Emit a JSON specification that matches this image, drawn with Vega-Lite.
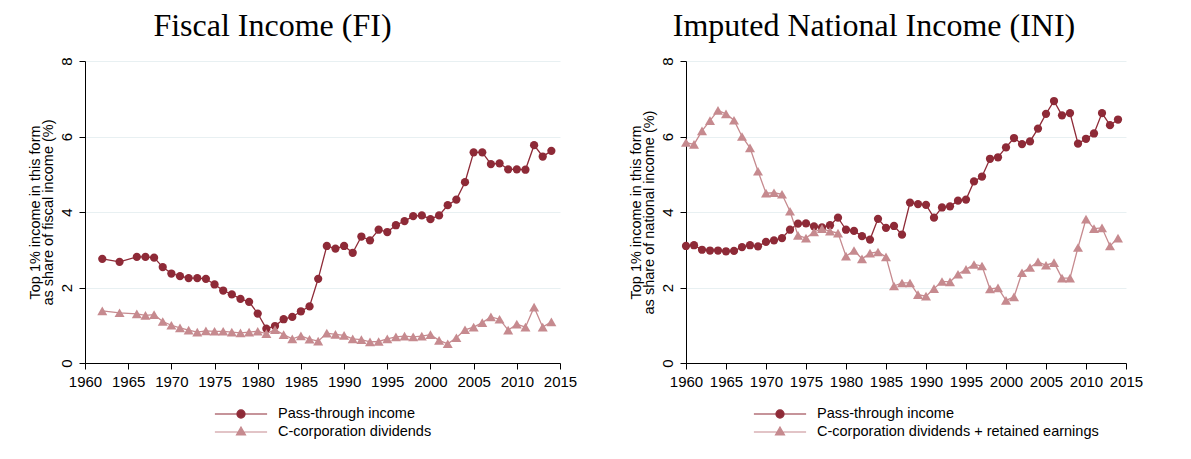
{
  "$schema": "https://vega.github.io/schema/vega-lite/v6.json",
  "background": "white",
  "padding": {"left": 27, "top": 9, "right": 5, "bottom": 5},
  "datasets": {
    "fi": [
      {"year": 1962, "value": 2.76, "series": "Pass-through income"},
      {"year": 1964, "value": 2.68, "series": "Pass-through income"},
      {"year": 1966, "value": 2.81, "series": "Pass-through income"},
      {"year": 1967, "value": 2.81, "series": "Pass-through income"},
      {"year": 1968, "value": 2.79, "series": "Pass-through income"},
      {"year": 1969, "value": 2.54, "series": "Pass-through income"},
      {"year": 1970, "value": 2.37, "series": "Pass-through income"},
      {"year": 1971, "value": 2.30, "series": "Pass-through income"},
      {"year": 1972, "value": 2.25, "series": "Pass-through income"},
      {"year": 1973, "value": 2.25, "series": "Pass-through income"},
      {"year": 1974, "value": 2.23, "series": "Pass-through income"},
      {"year": 1975, "value": 2.08, "series": "Pass-through income"},
      {"year": 1976, "value": 1.92, "series": "Pass-through income"},
      {"year": 1977, "value": 1.82, "series": "Pass-through income"},
      {"year": 1978, "value": 1.70, "series": "Pass-through income"},
      {"year": 1979, "value": 1.62, "series": "Pass-through income"},
      {"year": 1980, "value": 1.31, "series": "Pass-through income"},
      {"year": 1981, "value": 0.91, "series": "Pass-through income"},
      {"year": 1982, "value": 0.98, "series": "Pass-through income"},
      {"year": 1983, "value": 1.16, "series": "Pass-through income"},
      {"year": 1984, "value": 1.22, "series": "Pass-through income"},
      {"year": 1985, "value": 1.37, "series": "Pass-through income"},
      {"year": 1986, "value": 1.50, "series": "Pass-through income"},
      {"year": 1987, "value": 2.23, "series": "Pass-through income"},
      {"year": 1988, "value": 3.10, "series": "Pass-through income"},
      {"year": 1989, "value": 3.03, "series": "Pass-through income"},
      {"year": 1990, "value": 3.10, "series": "Pass-through income"},
      {"year": 1991, "value": 2.92, "series": "Pass-through income"},
      {"year": 1992, "value": 3.35, "series": "Pass-through income"},
      {"year": 1993, "value": 3.25, "series": "Pass-through income"},
      {"year": 1994, "value": 3.53, "series": "Pass-through income"},
      {"year": 1995, "value": 3.47, "series": "Pass-through income"},
      {"year": 1996, "value": 3.65, "series": "Pass-through income"},
      {"year": 1997, "value": 3.76, "series": "Pass-through income"},
      {"year": 1998, "value": 3.89, "series": "Pass-through income"},
      {"year": 1999, "value": 3.91, "series": "Pass-through income"},
      {"year": 2000, "value": 3.81, "series": "Pass-through income"},
      {"year": 2001, "value": 3.91, "series": "Pass-through income"},
      {"year": 2002, "value": 4.18, "series": "Pass-through income"},
      {"year": 2003, "value": 4.33, "series": "Pass-through income"},
      {"year": 2004, "value": 4.79, "series": "Pass-through income"},
      {"year": 2005, "value": 5.58, "series": "Pass-through income"},
      {"year": 2006, "value": 5.58, "series": "Pass-through income"},
      {"year": 2007, "value": 5.27, "series": "Pass-through income"},
      {"year": 2008, "value": 5.29, "series": "Pass-through income"},
      {"year": 2009, "value": 5.13, "series": "Pass-through income"},
      {"year": 2010, "value": 5.13, "series": "Pass-through income"},
      {"year": 2011, "value": 5.12, "series": "Pass-through income"},
      {"year": 2012, "value": 5.77, "series": "Pass-through income"},
      {"year": 2013, "value": 5.47, "series": "Pass-through income"},
      {"year": 2014, "value": 5.62, "series": "Pass-through income"},
      {"year": 1962, "value": 1.38, "series": "C-corporation dividends"},
      {"year": 1964, "value": 1.33, "series": "C-corporation dividends"},
      {"year": 1966, "value": 1.30, "series": "C-corporation dividends"},
      {"year": 1967, "value": 1.26, "series": "C-corporation dividends"},
      {"year": 1968, "value": 1.28, "series": "C-corporation dividends"},
      {"year": 1969, "value": 1.10, "series": "C-corporation dividends"},
      {"year": 1970, "value": 1.00, "series": "C-corporation dividends"},
      {"year": 1971, "value": 0.93, "series": "C-corporation dividends"},
      {"year": 1972, "value": 0.87, "series": "C-corporation dividends"},
      {"year": 1973, "value": 0.82, "series": "C-corporation dividends"},
      {"year": 1974, "value": 0.85, "series": "C-corporation dividends"},
      {"year": 1975, "value": 0.84, "series": "C-corporation dividends"},
      {"year": 1976, "value": 0.84, "series": "C-corporation dividends"},
      {"year": 1977, "value": 0.82, "series": "C-corporation dividends"},
      {"year": 1978, "value": 0.80, "series": "C-corporation dividends"},
      {"year": 1979, "value": 0.82, "series": "C-corporation dividends"},
      {"year": 1980, "value": 0.84, "series": "C-corporation dividends"},
      {"year": 1981, "value": 0.78, "series": "C-corporation dividends"},
      {"year": 1982, "value": 0.88, "series": "C-corporation dividends"},
      {"year": 1983, "value": 0.75, "series": "C-corporation dividends"},
      {"year": 1984, "value": 0.64, "series": "C-corporation dividends"},
      {"year": 1985, "value": 0.72, "series": "C-corporation dividends"},
      {"year": 1986, "value": 0.63, "series": "C-corporation dividends"},
      {"year": 1987, "value": 0.58, "series": "C-corporation dividends"},
      {"year": 1988, "value": 0.79, "series": "C-corporation dividends"},
      {"year": 1989, "value": 0.76, "series": "C-corporation dividends"},
      {"year": 1990, "value": 0.73, "series": "C-corporation dividends"},
      {"year": 1991, "value": 0.64, "series": "C-corporation dividends"},
      {"year": 1992, "value": 0.62, "series": "C-corporation dividends"},
      {"year": 1993, "value": 0.56, "series": "C-corporation dividends"},
      {"year": 1994, "value": 0.57, "series": "C-corporation dividends"},
      {"year": 1995, "value": 0.64, "series": "C-corporation dividends"},
      {"year": 1996, "value": 0.69, "series": "C-corporation dividends"},
      {"year": 1997, "value": 0.71, "series": "C-corporation dividends"},
      {"year": 1998, "value": 0.69, "series": "C-corporation dividends"},
      {"year": 1999, "value": 0.71, "series": "C-corporation dividends"},
      {"year": 2000, "value": 0.75, "series": "C-corporation dividends"},
      {"year": 2001, "value": 0.60, "series": "C-corporation dividends"},
      {"year": 2002, "value": 0.51, "series": "C-corporation dividends"},
      {"year": 2003, "value": 0.67, "series": "C-corporation dividends"},
      {"year": 2004, "value": 0.88, "series": "C-corporation dividends"},
      {"year": 2005, "value": 0.95, "series": "C-corporation dividends"},
      {"year": 2006, "value": 1.07, "series": "C-corporation dividends"},
      {"year": 2007, "value": 1.22, "series": "C-corporation dividends"},
      {"year": 2008, "value": 1.16, "series": "C-corporation dividends"},
      {"year": 2009, "value": 0.87, "series": "C-corporation dividends"},
      {"year": 2010, "value": 1.03, "series": "C-corporation dividends"},
      {"year": 2011, "value": 0.95, "series": "C-corporation dividends"},
      {"year": 2012, "value": 1.48, "series": "C-corporation dividends"},
      {"year": 2013, "value": 0.95, "series": "C-corporation dividends"},
      {"year": 2014, "value": 1.09, "series": "C-corporation dividends"}
    ],
    "ini": [
      {"year": 1960, "value": 3.10, "series": "Pass-through income"},
      {"year": 1961, "value": 3.12, "series": "Pass-through income"},
      {"year": 1962, "value": 3.00, "series": "Pass-through income"},
      {"year": 1963, "value": 2.98, "series": "Pass-through income"},
      {"year": 1964, "value": 2.98, "series": "Pass-through income"},
      {"year": 1965, "value": 2.96, "series": "Pass-through income"},
      {"year": 1966, "value": 2.97, "series": "Pass-through income"},
      {"year": 1967, "value": 3.07, "series": "Pass-through income"},
      {"year": 1968, "value": 3.12, "series": "Pass-through income"},
      {"year": 1969, "value": 3.09, "series": "Pass-through income"},
      {"year": 1970, "value": 3.21, "series": "Pass-through income"},
      {"year": 1971, "value": 3.25, "series": "Pass-through income"},
      {"year": 1972, "value": 3.31, "series": "Pass-through income"},
      {"year": 1973, "value": 3.53, "series": "Pass-through income"},
      {"year": 1974, "value": 3.69, "series": "Pass-through income"},
      {"year": 1975, "value": 3.70, "series": "Pass-through income"},
      {"year": 1976, "value": 3.62, "series": "Pass-through income"},
      {"year": 1977, "value": 3.59, "series": "Pass-through income"},
      {"year": 1978, "value": 3.65, "series": "Pass-through income"},
      {"year": 1979, "value": 3.85, "series": "Pass-through income"},
      {"year": 1980, "value": 3.53, "series": "Pass-through income"},
      {"year": 1981, "value": 3.50, "series": "Pass-through income"},
      {"year": 1982, "value": 3.36, "series": "Pass-through income"},
      {"year": 1983, "value": 3.27, "series": "Pass-through income"},
      {"year": 1984, "value": 3.82, "series": "Pass-through income"},
      {"year": 1985, "value": 3.58, "series": "Pass-through income"},
      {"year": 1986, "value": 3.63, "series": "Pass-through income"},
      {"year": 1987, "value": 3.40, "series": "Pass-through income"},
      {"year": 1988, "value": 4.25, "series": "Pass-through income"},
      {"year": 1989, "value": 4.21, "series": "Pass-through income"},
      {"year": 1990, "value": 4.19, "series": "Pass-through income"},
      {"year": 1991, "value": 3.85, "series": "Pass-through income"},
      {"year": 1992, "value": 4.12, "series": "Pass-through income"},
      {"year": 1993, "value": 4.15, "series": "Pass-through income"},
      {"year": 1994, "value": 4.30, "series": "Pass-through income"},
      {"year": 1995, "value": 4.33, "series": "Pass-through income"},
      {"year": 1996, "value": 4.81, "series": "Pass-through income"},
      {"year": 1997, "value": 4.94, "series": "Pass-through income"},
      {"year": 1998, "value": 5.41, "series": "Pass-through income"},
      {"year": 1999, "value": 5.45, "series": "Pass-through income"},
      {"year": 2000, "value": 5.71, "series": "Pass-through income"},
      {"year": 2001, "value": 5.96, "series": "Pass-through income"},
      {"year": 2002, "value": 5.80, "series": "Pass-through income"},
      {"year": 2003, "value": 5.87, "series": "Pass-through income"},
      {"year": 2004, "value": 6.21, "series": "Pass-through income"},
      {"year": 2005, "value": 6.60, "series": "Pass-through income"},
      {"year": 2006, "value": 6.94, "series": "Pass-through income"},
      {"year": 2007, "value": 6.56, "series": "Pass-through income"},
      {"year": 2008, "value": 6.62, "series": "Pass-through income"},
      {"year": 2009, "value": 5.81, "series": "Pass-through income"},
      {"year": 2010, "value": 5.94, "series": "Pass-through income"},
      {"year": 2011, "value": 6.08, "series": "Pass-through income"},
      {"year": 2012, "value": 6.62, "series": "Pass-through income"},
      {"year": 2013, "value": 6.30, "series": "Pass-through income"},
      {"year": 2014, "value": 6.45, "series": "Pass-through income"},
      {"year": 1960, "value": 5.84, "series": "C-corporation dividends + retained earnings"},
      {"year": 1961, "value": 5.79, "series": "C-corporation dividends + retained earnings"},
      {"year": 1962, "value": 6.15, "series": "C-corporation dividends + retained earnings"},
      {"year": 1963, "value": 6.42, "series": "C-corporation dividends + retained earnings"},
      {"year": 1964, "value": 6.69, "series": "C-corporation dividends + retained earnings"},
      {"year": 1965, "value": 6.60, "series": "C-corporation dividends + retained earnings"},
      {"year": 1966, "value": 6.43, "series": "C-corporation dividends + retained earnings"},
      {"year": 1967, "value": 6.00, "series": "C-corporation dividends + retained earnings"},
      {"year": 1968, "value": 5.70, "series": "C-corporation dividends + retained earnings"},
      {"year": 1969, "value": 5.08, "series": "C-corporation dividends + retained earnings"},
      {"year": 1970, "value": 4.50, "series": "C-corporation dividends + retained earnings"},
      {"year": 1971, "value": 4.51, "series": "C-corporation dividends + retained earnings"},
      {"year": 1972, "value": 4.47, "series": "C-corporation dividends + retained earnings"},
      {"year": 1973, "value": 4.02, "series": "C-corporation dividends + retained earnings"},
      {"year": 1974, "value": 3.38, "series": "C-corporation dividends + retained earnings"},
      {"year": 1975, "value": 3.31, "series": "C-corporation dividends + retained earnings"},
      {"year": 1976, "value": 3.47, "series": "C-corporation dividends + retained earnings"},
      {"year": 1977, "value": 3.56, "series": "C-corporation dividends + retained earnings"},
      {"year": 1978, "value": 3.49, "series": "C-corporation dividends + retained earnings"},
      {"year": 1979, "value": 3.44, "series": "C-corporation dividends + retained earnings"},
      {"year": 1980, "value": 2.83, "series": "C-corporation dividends + retained earnings"},
      {"year": 1981, "value": 2.98, "series": "C-corporation dividends + retained earnings"},
      {"year": 1982, "value": 2.76, "series": "C-corporation dividends + retained earnings"},
      {"year": 1983, "value": 2.91, "series": "C-corporation dividends + retained earnings"},
      {"year": 1984, "value": 2.94, "series": "C-corporation dividends + retained earnings"},
      {"year": 1985, "value": 2.81, "series": "C-corporation dividends + retained earnings"},
      {"year": 1986, "value": 2.04, "series": "C-corporation dividends + retained earnings"},
      {"year": 1987, "value": 2.12, "series": "C-corporation dividends + retained earnings"},
      {"year": 1988, "value": 2.12, "series": "C-corporation dividends + retained earnings"},
      {"year": 1989, "value": 1.81, "series": "C-corporation dividends + retained earnings"},
      {"year": 1990, "value": 1.77, "series": "C-corporation dividends + retained earnings"},
      {"year": 1991, "value": 1.97, "series": "C-corporation dividends + retained earnings"},
      {"year": 1992, "value": 2.16, "series": "C-corporation dividends + retained earnings"},
      {"year": 1993, "value": 2.15, "series": "C-corporation dividends + retained earnings"},
      {"year": 1994, "value": 2.35, "series": "C-corporation dividends + retained earnings"},
      {"year": 1995, "value": 2.48, "series": "C-corporation dividends + retained earnings"},
      {"year": 1996, "value": 2.61, "series": "C-corporation dividends + retained earnings"},
      {"year": 1997, "value": 2.57, "series": "C-corporation dividends + retained earnings"},
      {"year": 1998, "value": 1.96, "series": "C-corporation dividends + retained earnings"},
      {"year": 1999, "value": 1.99, "series": "C-corporation dividends + retained earnings"},
      {"year": 2000, "value": 1.66, "series": "C-corporation dividends + retained earnings"},
      {"year": 2001, "value": 1.75, "series": "C-corporation dividends + retained earnings"},
      {"year": 2002, "value": 2.39, "series": "C-corporation dividends + retained earnings"},
      {"year": 2003, "value": 2.53, "series": "C-corporation dividends + retained earnings"},
      {"year": 2004, "value": 2.68, "series": "C-corporation dividends + retained earnings"},
      {"year": 2005, "value": 2.59, "series": "C-corporation dividends + retained earnings"},
      {"year": 2006, "value": 2.66, "series": "C-corporation dividends + retained earnings"},
      {"year": 2007, "value": 2.25, "series": "C-corporation dividends + retained earnings"},
      {"year": 2008, "value": 2.25, "series": "C-corporation dividends + retained earnings"},
      {"year": 2009, "value": 3.06, "series": "C-corporation dividends + retained earnings"},
      {"year": 2010, "value": 3.81, "series": "C-corporation dividends + retained earnings"},
      {"year": 2011, "value": 3.56, "series": "C-corporation dividends + retained earnings"},
      {"year": 2012, "value": 3.58, "series": "C-corporation dividends + retained earnings"},
      {"year": 2013, "value": 3.10, "series": "C-corporation dividends + retained earnings"},
      {"year": 2014, "value": 3.31, "series": "C-corporation dividends + retained earnings"}
    ]
  },
  "spacing": 51,
  "hconcat": [
    {
      "width": 475,
      "height": 302,
      "title": {"text": "Fiscal Income (FI)", "frame": "group", "dx": -50, "offset": 14},
      "data": {"name": "fi"},
      "encoding": {
        "x": {"field": "year", "type": "quantitative", "scale": {"domain": [1960, 2015], "nice": false, "zero": false},
              "axis": {"title": null, "values": [1960,1965,1970,1975,1980,1985,1990,1995,2000,2005,2010,2015], "format": "d", "grid": false, "labelFlush": false}},
        "y": {"field": "value", "type": "quantitative", "scale": {"domain": [0, 8], "nice": false},
              "axis": {"title": ["Top 1% income in this form", "as share of fiscal income (%)"], "values": [0,2,4,6,8], "labelAngle": -90, "labelAlign": "center", "labelBaseline": "bottom", "grid": true}},
        "color": {"field": "series", "type": "nominal",
                  "scale": {"domain": ["Pass-through income", "C-corporation dividends"], "range": ["#8E2A37", "#C68A8F"]},
                  "legend": {"orient": "none", "legendX": 146, "legendY": 343, "title": null, "padding": 0, "symbolSize": 324, "labelOffset": 27, "rowPadding": 1, "labelLimit": 0,
                    "encode": {"symbols": {"update": {
                      "shape": {"signal": "datum.value === 'Pass-through income' ? 'M-2.9,0H2.9M-0.45,0A0.45,0.45 0 1,0 0.45,0A0.45,0.45 0 1,0 -0.45,0Z' : 'M-2.9,0H2.9M0,-0.55L0.5,0.32L-0.5,0.32Z'"},
                      "fill": {"signal": "datum.value === 'Pass-through income' ? '#8E2A37' : '#C68A8F'"},
                      "stroke": {"signal": "datum.value === 'Pass-through income' ? '#8E2A37' : '#C68A8F'"},
                      "strokeWidth": {"value": 1.2},
                      "opacity": {"value": 1}
                    }}}}}
      },
      "layer": [
        {"mark": {"type": "line", "strokeWidth": 1.3}},
        {"transform": [{"filter": "datum.series === 'Pass-through income'"}],
         "mark": {"type": "point", "shape": "circle", "filled": true, "opacity": 1, "size": 68}},
        {"transform": [{"filter": "datum.series !== 'Pass-through income'"}],
         "mark": {"type": "point", "shape": "triangle-up", "filled": true, "opacity": 1, "size": 100}}
      ]
    },
    {
      "width": 440,
      "height": 302,
      "title": {"text": "Imputed National Income (INI)", "frame": "group", "dx": -32, "offset": 14},
      "data": {"name": "ini"},
      "encoding": {
        "x": {"field": "year", "type": "quantitative", "scale": {"domain": [1960, 2015], "nice": false, "zero": false},
              "axis": {"title": null, "values": [1960,1965,1970,1975,1980,1985,1990,1995,2000,2005,2010,2015], "format": "d", "grid": false, "labelFlush": false}},
        "y": {"field": "value", "type": "quantitative", "scale": {"domain": [0, 8], "nice": false},
              "axis": {"title": ["Top 1% income in this form", "as share of national income (%)"], "values": [0,2,4,6,8], "labelAngle": -90, "labelAlign": "center", "labelBaseline": "bottom", "grid": true}},
        "color": {"field": "series", "type": "nominal",
                  "scale": {"domain": ["Pass-through income", "C-corporation dividends + retained earnings"], "range": ["#8E2A37", "#C68A8F"]},
                  "legend": {"orient": "none", "legendX": 84, "legendY": 343, "title": null, "padding": 0, "symbolSize": 324, "labelOffset": 27, "rowPadding": 1, "labelLimit": 0,
                    "encode": {"symbols": {"update": {
                      "shape": {"signal": "datum.value === 'Pass-through income' ? 'M-2.9,0H2.9M-0.45,0A0.45,0.45 0 1,0 0.45,0A0.45,0.45 0 1,0 -0.45,0Z' : 'M-2.9,0H2.9M0,-0.55L0.5,0.32L-0.5,0.32Z'"},
                      "fill": {"signal": "datum.value === 'Pass-through income' ? '#8E2A37' : '#C68A8F'"},
                      "stroke": {"signal": "datum.value === 'Pass-through income' ? '#8E2A37' : '#C68A8F'"},
                      "strokeWidth": {"value": 1.2},
                      "opacity": {"value": 1}
                    }}}}}
      },
      "layer": [
        {"mark": {"type": "line", "strokeWidth": 1.3}},
        {"transform": [{"filter": "datum.series === 'Pass-through income'"}],
         "mark": {"type": "point", "shape": "circle", "filled": true, "opacity": 1, "size": 68}},
        {"transform": [{"filter": "datum.series !== 'Pass-through income'"}],
         "mark": {"type": "point", "shape": "triangle-up", "filled": true, "opacity": 1, "size": 100}}
      ]
    }
  ],
  "resolve": {"scale": {"color": "independent"}, "legend": {"color": "independent"}},
  "config": {
    "view": {"stroke": null},
    "font": "Liberation Sans",
    "axis": {"labelFont": "Liberation Sans", "labelFontSize": 15, "labelColor": "#000", "labelPadding": 5,
             "titleFont": "Liberation Sans", "titleFontSize": 14.5, "titleFontWeight": "normal", "titleColor": "#000", "titlePadding": 4, "titleLineHeight": 13,
             "domainColor": "#000", "domainWidth": 1, "tickColor": "#000", "tickSize": 6, "tickWidth": 1,
             "gridColor": "#E8F0F2", "gridWidth": 1},
    "legend": {"labelFont": "Liberation Sans", "labelFontSize": 14.5, "labelColor": "#000"},
    "title": {"font": "Liberation Serif", "fontSize": 32, "fontWeight": "normal", "color": "#000", "baseline": "alphabetic", "anchor": "middle"}
  }
}
